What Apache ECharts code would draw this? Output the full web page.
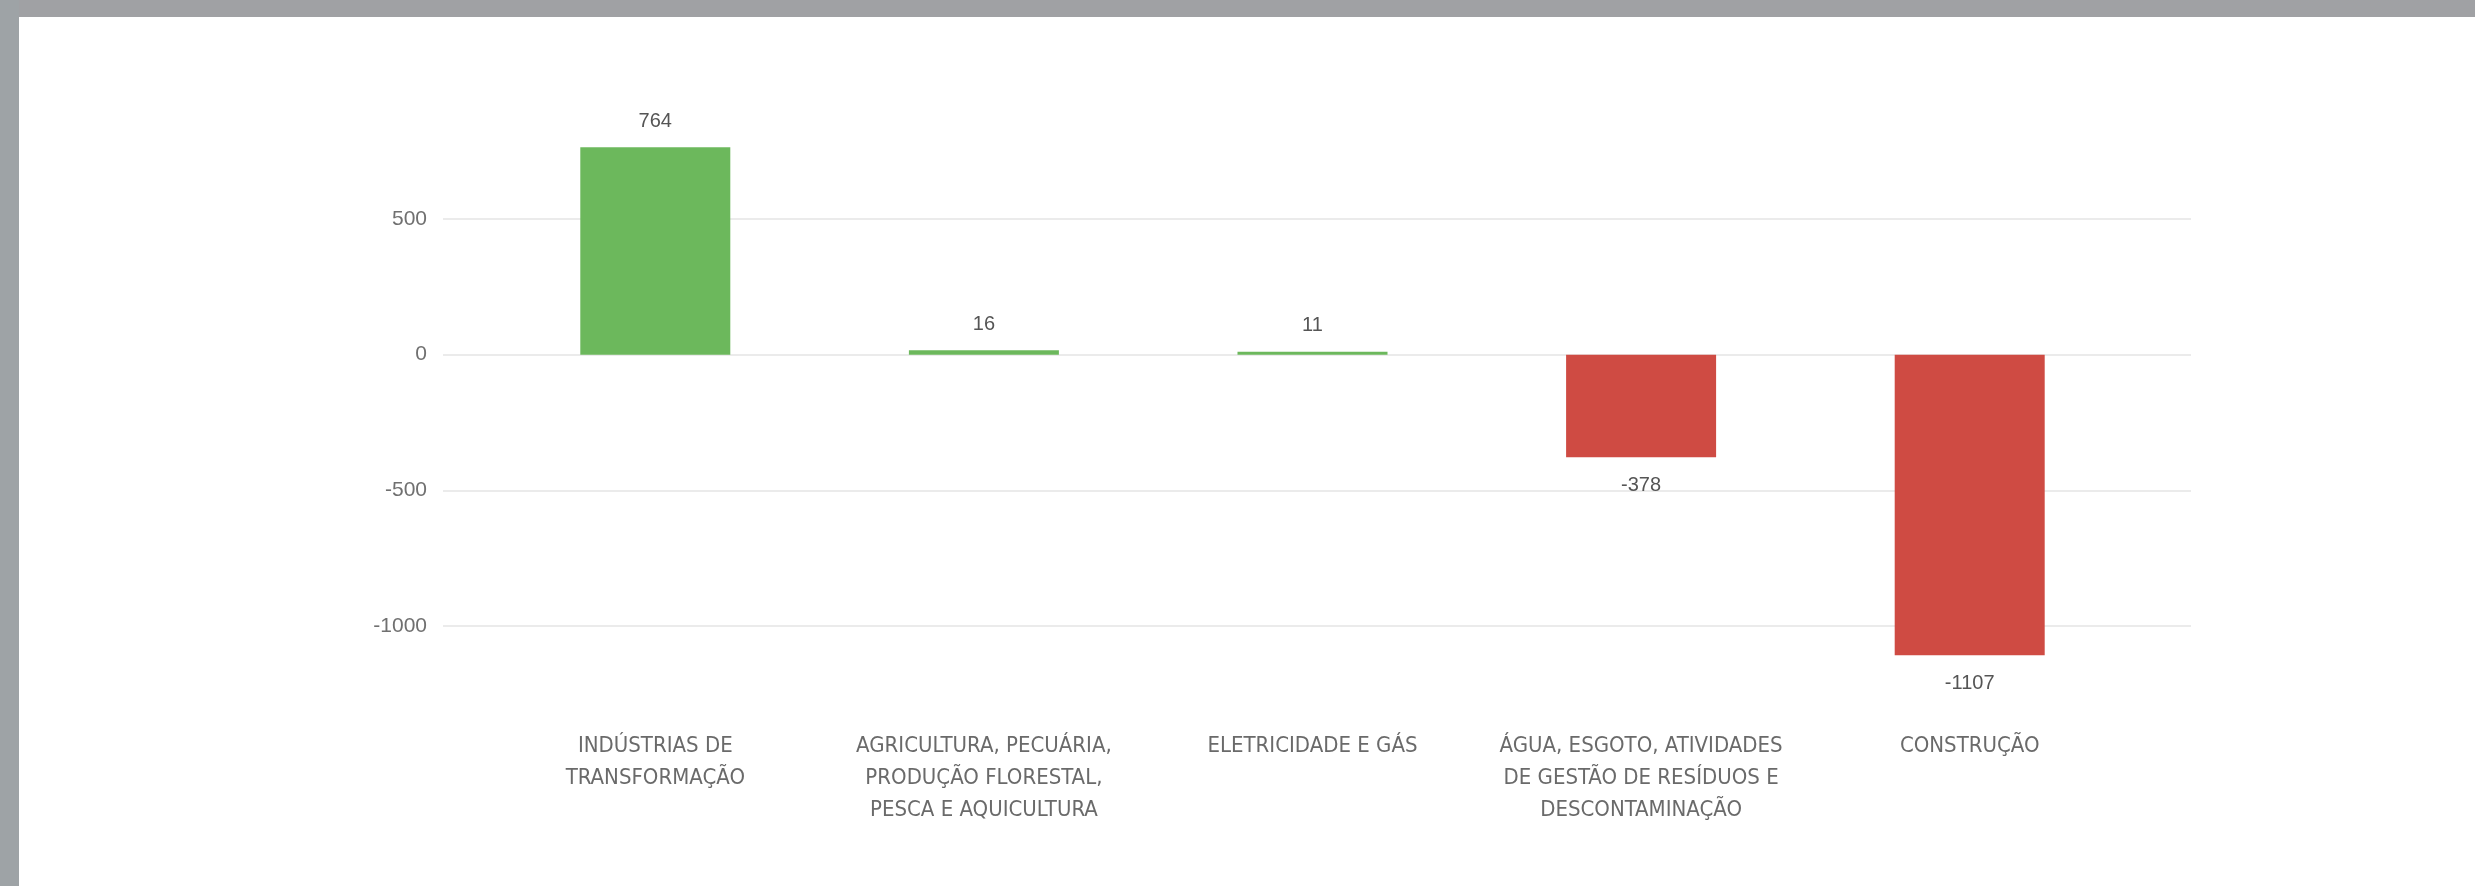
<!DOCTYPE html>
<html>
<head>
<meta charset="utf-8">
<script src="https://cdn.jsdelivr.net/npm/echarts@6/dist/echarts.min.js"></script>
<style>
html,body{margin:0;padding:0;background:#fff;}
#chart{width:2475px;height:886px;}
</style>
</head>
<body>
<div id="chart"></div>
<script>
const categories = [
  "INDÚSTRIAS DE\nTRANSFORMAÇÃO",
  "AGRICULTURA, PECUÁRIA,\nPRODUÇÃO FLORESTAL,\nPESCA E AQUICULTURA",
  "ELETRICIDADE E GÁS",
  "ÁGUA, ESGOTO, ATIVIDADES\nDE GESTÃO DE RESÍDUOS E\nDESCONTAMINAÇÃO",
  "CONSTRUÇÃO"
];
const values = [764, 16, 11, -378, -1107];
const yTicks = [-1000, -500, 0, 500];

const GREEN = '#6cb85c';
const RED = '#cf4b43';

const chart = echarts.init(document.getElementById('chart'), null, {renderer: 'canvas'});

const barData = values.map(v => ({
  value: v,
  itemStyle: {color: v >= 0 ? GREEN : RED},
  label: {position: v >= 0 ? 'top' : 'bottom', distance: v >= 0 ? 16 : 18}
}));

const option = {
  backgroundColor: '#ffffff',
  animation: false,
  graphic: [
    {type: 'rect', left: 0, top: 0, shape: {width: 2475, height: 17}, style: {fill: '#a0a1a4'}, z: 100},
    {type: 'rect', left: 0, top: 0, shape: {width: 19, height: 886}, style: {fill: '#9ea3a6'}, z: 100}
  ],
  grid: [
    {left: 443, right: 284, top: 219, height: 407, containLabel: false},
    {left: 491, right: 341, top: 137.6, height: 582.4, containLabel: false}
  ],
  xAxis: [
    {type: 'value', gridIndex: 0, min: 0, max: 1, show: false},
    {
      type: 'category', gridIndex: 1, data: categories,
      axisLine: {show: false}, axisTick: {show: false},
      axisLabel: {
        interval: 0, margin: 10, color: '#6a6a6a',
        fontFamily: '"Liberation Sans Narrow", "DejaVu Sans Condensed", "Liberation Sans", sans-serif',
        fontSize: 22, lineHeight: 32, align: 'center'
      }
    }
  ],
  yAxis: [
    {
      type: 'value', gridIndex: 0, min: yTicks[0], max: yTicks[yTicks.length - 1], interval: 500,
      axisLine: {show: false}, axisTick: {show: false},
      splitLine: {show: true, lineStyle: {color: '#e4e4e4', width: 1.5}},
      axisLabel: {
        margin: 16, color: '#707070', fontFamily: '"Liberation Sans", sans-serif', fontSize: 21,
        formatter: v => String(v)
      }
    },
    {
      type: 'value', gridIndex: 1, min: -1346, max: 800, show: false,
      splitLine: {show: false}
    }
  ],
  series: [
    {
      type: 'bar', xAxisIndex: 1, yAxisIndex: 1,
      data: barData,
      barWidth: 150,
      label: {
        show: true, color: '#555555',
        fontFamily: '"Liberation Sans", sans-serif', fontSize: 20
      }
    }
  ]
};
chart.setOption(option);
</script>
</body>
</html>
